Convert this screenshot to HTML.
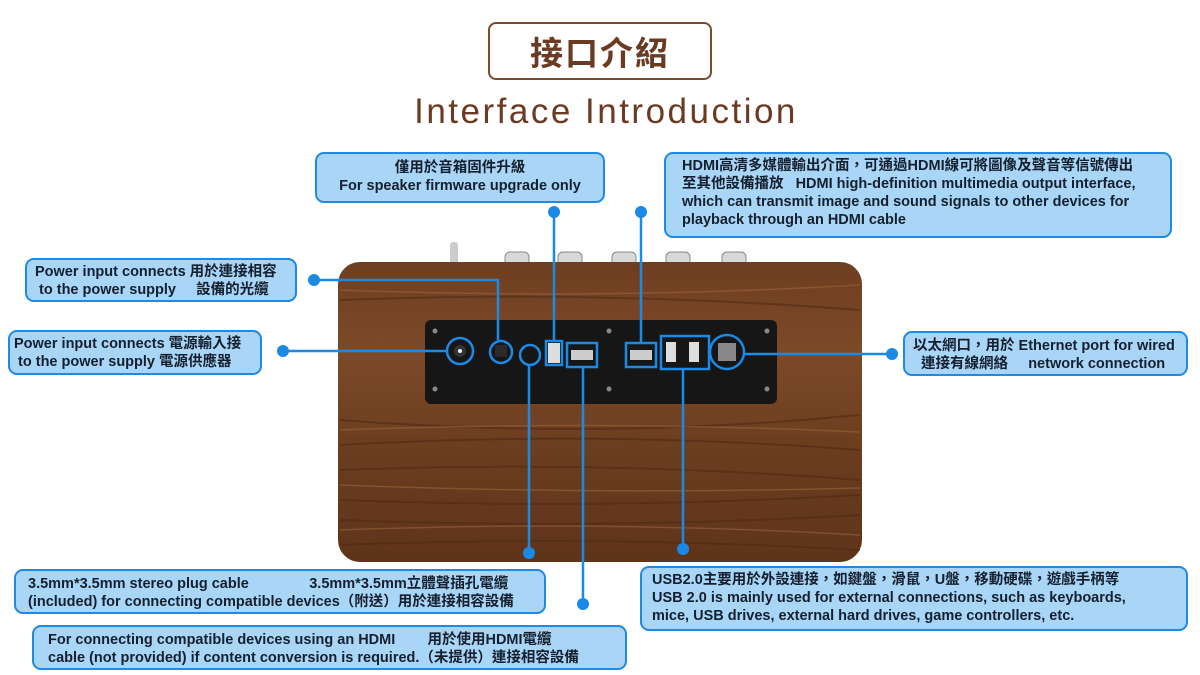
<!DOCTYPE html>
<html><head><meta charset="utf-8"><style>
*{margin:0;padding:0;box-sizing:border-box}
body{width:1200px;height:675px;background:#fff;position:relative;overflow:hidden;font-family:"Liberation Sans","Noto Sans CJK TC",sans-serif}
.b{position:absolute;background:#a9d5f7;border:2px solid #1e8ae6;border-radius:9px;color:#15202e;font-weight:bold;font-size:14.5px;line-height:18px;white-space:nowrap;overflow:hidden}
.t{position:absolute;white-space:nowrap}
svg{position:absolute;left:0;top:0}
</style></head><body>
<svg width="1200" height="675">
<defs>
<linearGradient id="w" x1="0" y1="0" x2="0" y2="1">
<stop offset="0" stop-color="#6e3e20"/><stop offset=".3" stop-color="#7d4a28"/><stop offset=".6" stop-color="#6c3e20"/><stop offset="1" stop-color="#5e341a"/></linearGradient>
</defs>
<rect x="432" y="262" width="360" height="20" rx="4" fill="#1d1d1d"/>
<rect x="450" y="242" width="8" height="28" rx="3" fill="#ccc"/>
<g fill="#d8d8d8" stroke="#888"><rect x="505" y="252" width="24" height="26" rx="5"/><rect x="558" y="252" width="24" height="26" rx="5"/><rect x="612" y="252" width="24" height="26" rx="5"/><rect x="666" y="252" width="24" height="26" rx="5"/><rect x="722" y="252" width="24" height="26" rx="5"/></g>
<rect x="338" y="262" width="524" height="300" rx="22" fill="url(#w)"/>
<g stroke="#4e2a12" stroke-width="2" opacity=".55" fill="none">
<path d="M340 300 Q600 290 860 310"/><path d="M340 420 Q600 440 860 415"/><path d="M340 445 Q600 430 860 450"/><path d="M340 470 Q600 460 860 480"/><path d="M340 500 Q600 510 860 495"/><path d="M340 520 Q600 530 860 515"/><path d="M340 545 Q600 535 860 550"/></g>
<g stroke="#a06a40" stroke-width="1.5" opacity=".5" fill="none">
<path d="M340 290 Q600 300 860 285"/><path d="M340 430 Q600 420 860 432"/><path d="M340 485 Q600 495 860 488"/><path d="M340 530 Q600 520 860 535"/></g>
<rect x="425" y="320" width="352" height="84" rx="6" fill="#161616"/>
<circle cx="460" cy="351" r="6" fill="#333"/><circle cx="460" cy="351" r="2" fill="#eee"/>
<rect x="495" y="345" width="12" height="12" fill="#2a2a2a"/>
<rect x="548" y="343" width="12" height="20" fill="#ddd"/>
<rect x="571" y="350" width="22" height="10" fill="#ccc"/><rect x="630" y="350" width="22" height="10" fill="#ccc"/>
<rect x="666" y="342" width="10" height="20" fill="#ddd"/><rect x="689" y="342" width="10" height="20" fill="#ddd"/>
<rect x="718" y="343" width="18" height="18" fill="#888"/>
<g fill="#888"><circle cx="435" cy="331" r="2.5"/><circle cx="435" cy="389" r="2.5"/><circle cx="767" cy="331" r="2.5"/><circle cx="767" cy="389" r="2.5"/><circle cx="609" cy="331" r="2.5"/><circle cx="609" cy="389" r="2.5"/></g>
<g stroke="#1a8ae6" stroke-width="2.5" fill="none">
<path d="M314 280 H498 V340"/><circle cx="501" cy="352" r="11"/>
<path d="M283 351 H447"/><circle cx="460" cy="351" r="13"/>
<path d="M554 212 V341"/><rect x="546" y="341" width="16" height="24"/>
<path d="M641 212 V343"/><rect x="626" y="343" width="30" height="24"/>
<circle cx="727" cy="352" r="17"/><path d="M744 354 H892"/>
<circle cx="530" cy="355" r="10"/><path d="M529 365 V553"/>
<rect x="567" y="343" width="30" height="24"/><path d="M583 367 V604"/>
<rect x="661" y="336" width="48" height="33"/><path d="M683 369 V549"/>
</g>
<g fill="#1a8ae6"><circle cx="314" cy="280" r="6"/><circle cx="283" cy="351" r="6"/><circle cx="554" cy="212" r="6"/><circle cx="641" cy="212" r="6"/><circle cx="892" cy="354" r="6"/><circle cx="529" cy="553" r="6"/><circle cx="583" cy="604" r="6"/><circle cx="683" cy="549" r="6"/></g>
</svg>
<div class="t" style="left:488px;top:22px;width:224px;height:58px;border:2px solid #7a4a2e;border-radius:8px;color:#6b3a22;font-size:33px;font-weight:bold;line-height:54px;text-align:center;letter-spacing:2px;font-family:'Noto Sans CJK TC',sans-serif">接口介紹</div>
<div class="t" style="left:380px;top:92px;width:452px;text-align:center;color:#6b3a22;font-size:35px;line-height:40px;letter-spacing:2.5px">Interface Introduction</div>
<div class="b" style="left:315px;top:152px;width:290px;height:51px;text-align:center;padding-top:5px">僅用於音箱固件升級<br>For speaker firmware upgrade only</div>
<div class="b" style="left:664px;top:152px;width:508px;height:86px;padding:3px 0 0 16px">HDMI高清多媒體輸出介面，可通過HDMI線可將圖像及聲音等信號傳出<br>至其他設備播放 &nbsp; HDMI high-definition multimedia output interface,<br>which can transmit image and sound signals to other devices for<br>playback through an HDMI cable</div>
<div class="b" style="left:25px;top:258px;width:272px;height:44px;padding:3px 0 0 8px">Power input connects 用於連接相容<br>&nbsp;to the power supply &nbsp;&nbsp;&nbsp;&nbsp;設備的光纜</div>
<div class="b" style="left:8px;top:330px;width:254px;height:45px;padding:3px 0 0 4px">Power input connects 電源輸入接<br>&nbsp;to the power supply 電源供應器</div>
<div class="b" style="left:903px;top:331px;width:285px;height:45px;padding:4px 0 0 8px">以太網口，用於 Ethernet port for wired<br>&nbsp;&nbsp;連接有線網絡 &nbsp;&nbsp;&nbsp;&nbsp;network connection</div>
<div class="b" style="left:14px;top:569px;width:532px;height:45px;padding:4px 0 0 12px">3.5mm*3.5mm stereo plug cable &nbsp;&nbsp;&nbsp;&nbsp;&nbsp;&nbsp;&nbsp;&nbsp;&nbsp;&nbsp;&nbsp;&nbsp;&nbsp;&nbsp;3.5mm*3.5mm立體聲插孔電纜<br>(included) for connecting compatible devices（附送）用於連接相容設備</div>
<div class="b" style="left:32px;top:625px;width:595px;height:45px;padding:4px 0 0 14px">For connecting compatible devices using an HDMI &nbsp;&nbsp;&nbsp;&nbsp;&nbsp;&nbsp;&nbsp;用於使用HDMI電纜<br>cable (not provided) if content conversion is required.（未提供）連接相容設備</div>
<div class="b" style="left:640px;top:566px;width:548px;height:65px;padding:3px 0 0 10px">USB2.0主要用於外設連接，如鍵盤，滑鼠，U盤，移動硬碟，遊戲手柄等<br>USB 2.0 is mainly used for external connections, such as keyboards,<br>mice, USB drives, external hard drives, game controllers, etc.</div>
</body></html>
